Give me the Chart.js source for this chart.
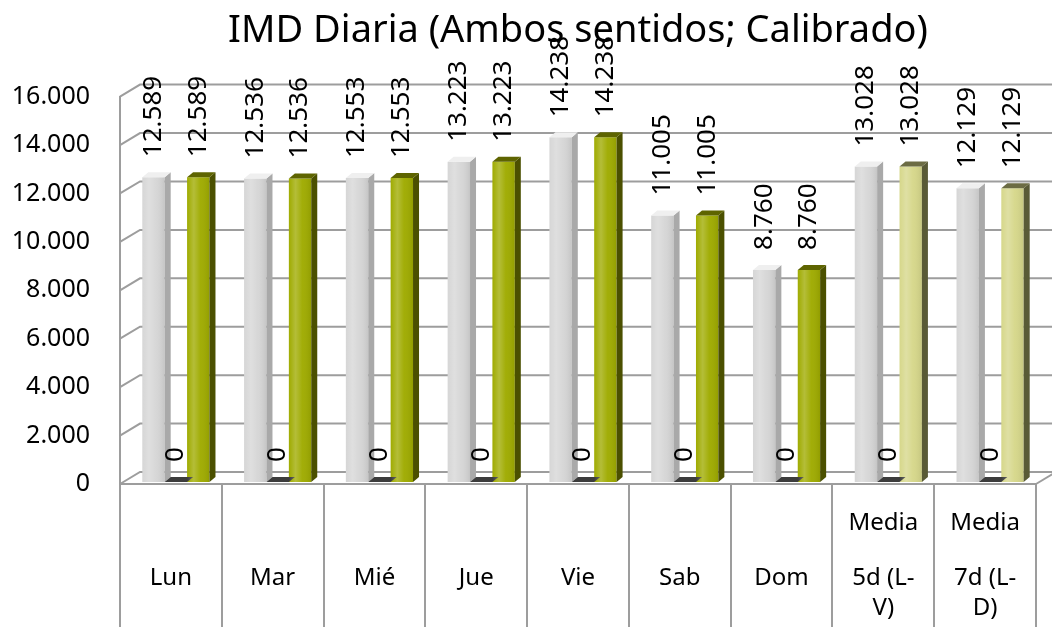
<!DOCTYPE html>
<html>
<head>
<meta charset="utf-8">
<title>IMD Diaria</title>
<script src="https://cdn.jsdelivr.net/npm/chart.js@4.4.1/dist/chart.umd.min.js"></script>
<style>
  html, body { margin: 0; padding: 0; background: #fff; }
  #wrap { width: 1052px; height: 627px; }
</style>
</head>
<body>
<div id="wrap"><canvas id="chartCanvas"></canvas></div>
<script>
// días y medias (las medias van en varias líneas)
const categories = ['Lun', 'Mar', 'Mié', 'Jue', 'Vie', 'Sab', 'Dom',
  ['Media', '5d (L-', 'V)'], ['Media', '7d (L-', 'D)']];
const imdSentido = [12589, 12536, 12553, 13223, 14238, 11005, 8760, 13028, 12129];
const imdVacio = [0, 0, 0, 0, 0, 0, 0, 0, 0];
const imdCalibrado = [12589, 12536, 12553, 13223, 14238, 11005, 8760, 13028, 12129];
const yMax = 16000;
const yStep = 2000;

const FONT = "'Noto Sans', 'Open Sans', sans-serif";
const GRID = '#9d9d9d';
const fmt = v => Number(v).toLocaleString('de-DE');

// profundidad de la pared del fondo y de cada barra
const WALL_DX = 20, WALL_DY = -12;
const BAR_DX = 6, BAR_DY = -5;
const SHIFT_X = 5, SHIFT_Y = -2;

const isMedia = c => Array.isArray(c);

const wallPlugin = {
  id: 'wall',
  beforeDatasetsDraw(chart) {
    const { ctx, chartArea: a, scales: { y } } = chart;
    ctx.save();
    ctx.strokeStyle = GRID;
    ctx.lineWidth = 2;
    y.ticks.forEach(t => {
      const py = y.getPixelForValue(t.value);
      ctx.beginPath();
      ctx.moveTo(a.left, py);
      ctx.lineTo(a.left + WALL_DX, py + WALL_DY);
      ctx.lineTo(a.right + WALL_DX, py + WALL_DY);
      ctx.stroke();
    });
    ctx.beginPath();
    ctx.moveTo(a.right, a.bottom);
    ctx.lineTo(a.right + WALL_DX, a.bottom + WALL_DY);
    ctx.stroke();
    ctx.restore();
    // las barras se dibujan un poco hacia dentro
    ctx.save();
    ctx.translate(SHIFT_X, SHIFT_Y);
  },
  afterDatasetsDraw(chart) {
    const { ctx } = chart;
    chart.data.datasets.forEach((ds, di) => {
      const meta = chart.getDatasetMeta(di);
      meta.data.forEach((el, i) => {
        const p = el.getProps(['x', 'y', 'base', 'width'], true);
        const left = p.x - p.width / 2, right = p.x + p.width / 2;
        const top = Math.min(p.y, p.base), base = Math.max(p.y, p.base);
        const pick = c => Array.isArray(c) ? c[i] : c;
        if (base - top > 0) {
          // brillo en la cara frontal
          const g = ctx.createLinearGradient(left, 0, right, 0);
          g.addColorStop(0, 'rgba(255,255,255,0)');
          g.addColorStop(0.3, 'rgba(255,255,255,0.22)');
          g.addColorStop(0.6, 'rgba(255,255,255,0.03)');
          g.addColorStop(1, 'rgba(0,0,0,0.08)');
          ctx.fillStyle = g;
          ctx.fillRect(left, top, p.width, base - top);
          // lateral
          ctx.fillStyle = pick(ds.sideColor);
          ctx.beginPath();
          ctx.moveTo(right, top);
          ctx.lineTo(right + BAR_DX, top + BAR_DY);
          ctx.lineTo(right + BAR_DX, base + BAR_DY);
          ctx.lineTo(right, base);
          ctx.closePath();
          ctx.fill();
        }
        // tapa
        ctx.fillStyle = pick(ds.capColor);
        ctx.beginPath();
        ctx.moveTo(left, top);
        ctx.lineTo(right, top);
        ctx.lineTo(right + BAR_DX, top + BAR_DY);
        ctx.lineTo(left + BAR_DX, top + BAR_DY);
        ctx.closePath();
        ctx.fill();
      });
    });
    ctx.restore();

    // etiquetas de valor, giradas
    ctx.save();
    ctx.fillStyle = '#000';
    ctx.font = '26px ' + FONT;
    ctx.textAlign = 'left';
    ctx.textBaseline = 'middle';
    chart.data.datasets.forEach((ds, di) => {
      chart.getDatasetMeta(di).data.forEach((el, i) => {
        const p = el.getProps(['x', 'y'], true);
        ctx.save();
        ctx.translate(p.x + SHIFT_X, p.y + SHIFT_Y - 20);
        ctx.rotate(-Math.PI / 2);
        ctx.fillText(fmt(ds.data[i]), 0, 0);
        ctx.restore();
      });
    });
    ctx.restore();
  },
  afterDraw(chart) {
    // nombres de categoría bajo el eje
    const { ctx, chartArea: a, scales: { x } } = chart;
    ctx.save();
    ctx.fillStyle = '#000';
    ctx.font = '24px ' + FONT;
    ctx.textAlign = 'center';
    ctx.textBaseline = 'middle';
    categories.forEach((c, i) => {
      const px = x.getPixelForValue(i);
      if (isMedia(c)) {
        c.forEach((line, k) => {
          const py = k === 0 ? a.bottom + 39 : a.bottom + 94 + (k - 1) * 30;
          ctx.fillText(line, px, py);
        });
      } else {
        ctx.fillText(c, px, a.bottom + 94);
      }
    });
    ctx.restore();
  }
};

const ctx = document.getElementById('chartCanvas').getContext('2d');
new Chart(ctx, {
  type: 'bar',
  data: {
    labels: categories.map(c => isMedia(c) ? c.join(' ') : c),
    datasets: [
      {
        label: 'Sentido',
        data: imdSentido,
        backgroundColor: '#d6d6d6',
        sideColor: '#a9a9a9',
        capColor: '#efefef'
      },
      {
        label: 'Vacío',
        data: imdVacio,
        backgroundColor: '#3a3a3a',
        sideColor: '#2a2a2a',
        capColor: '#3c3c3c'
      },
      {
        label: 'Calibrado',
        data: imdCalibrado,
        backgroundColor: categories.map(c => isMedia(c) ? '#d6d78a' : '#9fab00'),
        sideColor: categories.map(c => isMedia(c) ? '#595a36' : '#4b5000'),
        capColor: categories.map(c => isMedia(c) ? '#6c6c44' : '#5e6400')
      }
    ]
  },
  options: {
    responsive: true,
    maintainAspectRatio: false,
    animation: false,
    categoryPercentage: 0.66,
    barPercentage: 1.0,
    layout: { padding: { left: 0, right: 16, top: 0, bottom: 0 } },
    plugins: {
      legend: { display: false },
      tooltip: { enabled: false },
      title: {
        display: true,
        fullSize: false,
        text: 'IMD Diaria (Ambos sentidos; Calibrado)',
        color: '#000',
        font: { family: FONT, size: 38, weight: 'normal' },
        padding: { top: 8, bottom: 43 }
      }
    },
    scales: {
      x: {
        offset: true,
        grid: {
          offset: true,
          drawOnChartArea: false,
          drawTicks: true,
          tickLength: 143,
          color: GRID,
          lineWidth: 2
        },
        border: { display: true, color: GRID, width: 2 },
        ticks: { display: false }
      },
      y: {
        min: 0,
        max: yMax,
        grid: { display: false, drawTicks: false },
        border: { display: true, color: GRID, width: 2 },
        ticks: {
          stepSize: yStep,
          padding: 30,
          color: '#000',
          font: { family: FONT, size: 25 },
          callback: v => fmt(v)
        },
        afterFit(scale) { scale.width = 120; }
      }
    }
  },
  plugins: [wallPlugin]
});
</script>
</body>
</html>
